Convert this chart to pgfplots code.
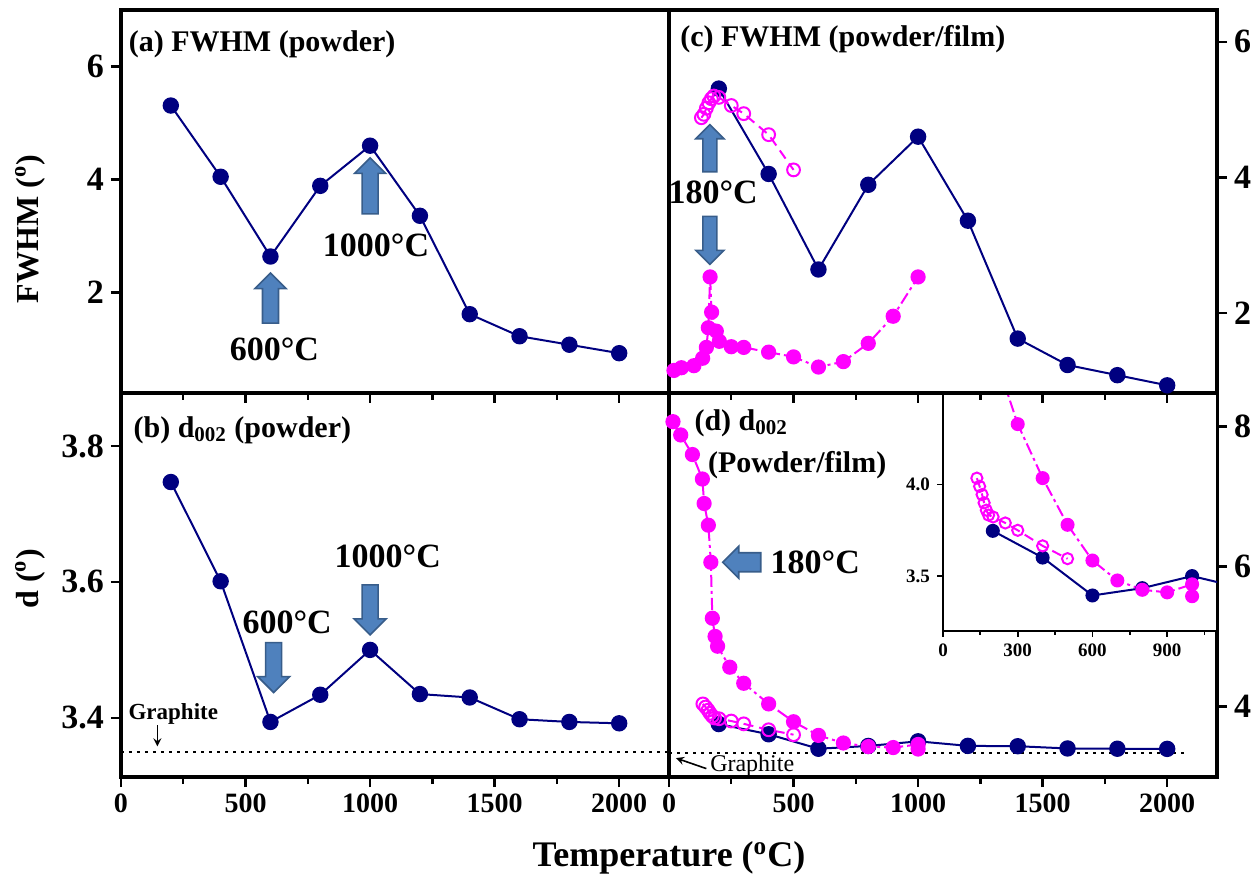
\documentclass[border=0pt]{standalone}
\usepackage{fontspec}
\setmainfont{Liberation Serif}
\usepackage{pgfplots}
\pgfplotsset{compat=1.18}
\definecolor{navy}{RGB}{0,0,128}
\definecolor{mag}{RGB}{255,0,255}
\definecolor{arrfill}{RGB}{79,129,189}
\definecolor{arredge}{RGB}{56,93,138}
\newcommand{\fs}[1]{\fontsize{#1}{#1}\selectfont\bfseries}
% block arrow: x, y, rotation, length, shaft width, head width (pt)
\newcommand{\barr}[6]{\filldraw[fill=arrfill, draw=arredge, line width=0.8pt, shift={(axis cs:#1,#2)}, rotate=#3]
  ({-0.5*#4pt},{-0.5*#5pt}) -- ({0.5*#4pt-0.5*#6pt},{-0.5*#5pt}) -- ({0.5*#4pt-0.5*#6pt},{-0.5*#6pt})
  -- ({0.5*#4pt},0pt) -- ({0.5*#4pt-0.5*#6pt},{0.5*#6pt}) -- ({0.5*#4pt-0.5*#6pt},{0.5*#5pt})
  -- ({-0.5*#4pt},{0.5*#5pt}) -- cycle;}

\pgfplotstableread{
x y
200 5.31
400 4.05
600 2.64
800 3.89
1000 4.60
1200 3.36
1400 1.62
1600 1.23
1800 1.08
2000 0.93
}\fwhmpowder
\pgfplotstableread{
x y
200 3.747
400 3.601
600 3.394
800 3.434
1000 3.500
1200 3.435
1400 3.430
1600 3.398
1800 3.394
2000 3.392
}\dpowder
\pgfplotstableread{
x y
20 1.15
50 1.19
100 1.22
135 1.33
150 1.49
158 1.78
165 2.53
171 2.01
190 1.73
202 1.58
250 1.50
300 1.49
400 1.42
500 1.35
600 1.20
700 1.28
800 1.55
900 1.95
1000 2.53
}\fwhmfilm
\pgfplotstableread{
x y
130 4.88
140 4.93
150 5.02
160 5.10
170 5.16
180 5.20
200 5.18
250 5.06
300 4.94
400 4.63
500 4.11
}\fwhmopen
\pgfplotstableread{
x y
16 8.07
47 7.88
94 7.60
134 7.25
141 6.90
158 6.59
168 6.06
174 5.26
185 5.00
195 4.86
244 4.56
300 4.33
400 4.035
500 3.78
600 3.585
700 3.476
800 3.425
900 3.411
1000 3.455
1000 3.39
}\dfilm
\pgfplotstableread{
x y
136 4.035
147 3.99
157 3.945
165 3.90
174 3.86
183 3.833
201 3.823
250 3.79
300 3.75
400 3.665
500 3.595
}\dopen

\pgfplotsset{
  panel/.style={scale only axis, anchor=south west, width=274pt, xmin=0, xmax=2200,
    axis line style={line width=1.8pt}, tick style={line width=1.2pt, black}, tick align=outside,
    major tick length=5pt, minor tick length=3.5pt,
    xtick={0,500,...,2000}, minor xtick={250,750,1250,1750},
    xtick pos=left,
    /pgf/number format/assume math mode=true,
    /pgf/number format/1000 sep={},
    yticklabel style={font=\fs{17}},
    xticklabel style={font=\fs{14}},
  },
  bluep/.style={navy, line width=1pt, mark=*, mark size=3.6pt, mark options={solid, fill=navy, draw=navy}},
  magf/.style={mag, line width=1pt, dash pattern=on 6pt off 2pt on 1.5pt off 2pt, mark=*, mark size=3.3pt, mark options={solid, fill=mag, draw=mag}},
  mago/.style={mag, line width=1pt, dash pattern=on 5pt off 3pt, mark=o, mark size=3.2pt, mark options={solid, line width=1pt, fill=white, draw=mag}},
  graphline/.style={black, line width=1.3pt, dash pattern=on 1.5pt off 2.5pt},
}

\begin{document}
\begin{tikzpicture}
\path[use as bounding box] (0,0) rectangle (627pt,439.5pt);

% (b)
\begin{axis}[panel, at={(60.5pt,51pt)}, height=192pt, ymin=3.313, ymax=3.878,
  ytick={3.4,3.6,3.8}, ytick pos=left,
  yticklabel style={/pgf/number format/.cd, fixed, fixed zerofill, precision=1}]
\addplot[graphline] coordinates {(0,3.35) (2200,3.35)};
\addplot[bluep] table {\dpowder};
\barr{613}{3.474}{-90}{25}{8}{16}
\barr{1000}{3.559}{-90}{25}{8}{16}
\node[font=\fs{17}] at (axis cs:667,3.54) {600°C};
\node[font=\fs{17}] at (axis cs:1071,3.637) {1000°C};
\node[anchor=west, inner sep=0pt, font=\fs{15}] at (axis cs:49,3.823) {(b) d\textsubscript{002} (powder)};
\node[font=\fs{11.5}] at (axis cs:210,3.406) {Graphite};
\draw[-stealth, black, line width=0.8pt] (axis cs:146,3.389) -- (axis cs:146,3.358);
\end{axis}

% (d)
\begin{axis}[panel, at={(334.5pt,51pt)}, height=192pt, ymin=2.99, ymax=8.48,
  ytick={4,6,8}, ytick pos=right, yticklabel pos=right]
\addplot[graphline] coordinates {(0,3.335) (2080,3.335)};
\addplot[bluep] table {\dpowder};
\addplot[mago] table {\dopen};
\addplot[magf] table {\dfilm};
\barr{292}{6.06}{180}{19}{9.5}{16}
\node[anchor=west, font=\fs{17}] at (axis cs:380,6.06) {180°C};
\node[anchor=west, inner sep=0pt, font=\fs{15}] at (axis cs:101,8.05) {(d) d\textsubscript{002}};
\node[anchor=west, inner sep=0pt, font=\fs{15}] at (axis cs:155,7.45) {(Powder/film)};
\node[anchor=west, inner sep=0pt, font=\fontsize{12}{12}\selectfont] at (axis cs:164,3.15) {Graphite};
\draw[-stealth, black, line width=0.8pt] (axis cs:150,3.11) -- (axis cs:28,3.26);
\end{axis}

% inset
\begin{axis}[scale only axis, anchor=south west, at={(471.5pt,124pt)}, width=137pt, height=119pt,
  xmin=0, xmax=1100, ymin=3.2, ymax=4.5,
  xtick={0,300,600,900}, minor xtick={150,450,750,1050}, ytick={3.5,4.0},
  xtick pos=left, ytick pos=left, tick align=outside,
  major tick length=3pt, minor tick length=2pt,
  axis line style={line width=1.2pt}, tick style={line width=0.9pt, black},
  axis background/.style={fill=white},
  /pgf/number format/assume math mode=true,
  ticklabel style={font=\fs{9.5}},
  yticklabel style={/pgf/number format/.cd, fixed, fixed zerofill, precision=1}]
\addplot[bluep, mark size=3pt] table {\dpowder};
\addplot[mago, mark size=2.8pt] table {\dopen};
\addplot[magf, mark size=3pt] table {\dfilm};
\end{axis}

% (a)
\begin{axis}[panel, at={(60.5pt,243pt)}, height=191.5pt, ymin=0.226, ymax=7.0,
  ytick={2,4,6}, ytick pos=left, xticklabels={}]
\addplot[bluep] table {\fwhmpowder};
\barr{600}{1.905}{90}{25}{8}{15.5}
\barr{1000}{3.89}{90}{28}{8}{15.5}
\node[font=\fs{17}] at (axis cs:616,0.99) {600°C};
\node[font=\fs{17}] at (axis cs:1024,2.83) {1000°C};
\node[anchor=west, inner sep=0pt, font=\fs{15}] at (axis cs:30,6.4) {(a) FWHM (powder)};
\end{axis}

% (c)
\begin{axis}[panel, at={(334.5pt,243pt)}, height=191.5pt, ymin=0.817, ymax=6.47,
  ytick={2,4,6}, ytick pos=right, yticklabel pos=right, xticklabels={}]
\addplot[bluep] table {\fwhmpowder};
\addplot[mago] table {\fwhmopen};
\addplot[magf] table {\fwhmfilm};
\barr{164}{4.43}{90}{23.5}{7}{14}
\barr{164}{3.07}{-90}{24}{7}{14}
\node[font=\fs{17}] at (axis cs:177,3.78) {180°C};
\node[anchor=west, inner sep=0pt, font=\fs{15}] at (axis cs:44,6.04) {(c) FWHM (powder/film)};
\end{axis}

\node[rotate=90, font=\fs{16}] at (15pt,325pt) {FWHM (\textsuperscript{o})};
\node[rotate=90, font=\fs{16}] at (15pt,150pt) {d (\textsuperscript{o})};
\node[font=\fs{18}] at (334.5pt,10.5pt) {Temperature (\textsuperscript{o}C)};
\end{tikzpicture}
\end{document}
